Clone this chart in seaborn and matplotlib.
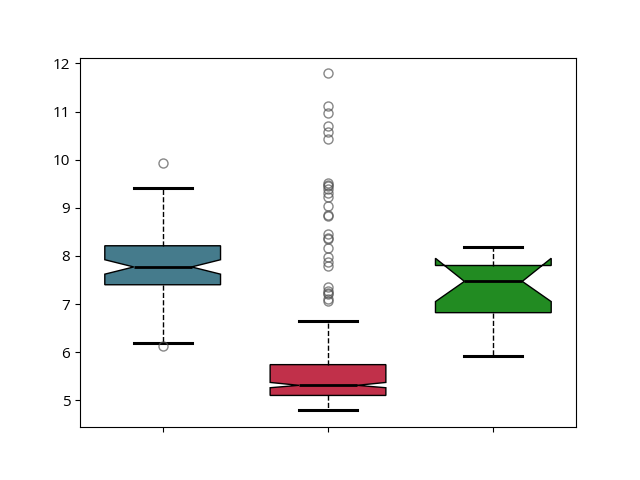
import matplotlib
matplotlib.use("Agg")
import matplotlib.pyplot as plt
import seaborn as sns

sns.set_style("ticks")
plt.rcParams.update(plt.rcParamsDefault)
plt.rcParams["font.family"] = ["Open Sans", "DejaVu Sans"]

# Data
groups = ["A", "B", "C"]
q1 = [7.40, 5.10, 6.82]
medians = [7.77, 5.31, 7.47]
q3 = [8.21, 5.74, 7.80]
whisker_low = [6.19, 4.79, 5.91]
whisker_high = [9.42, 6.64, 8.18]
notch_low = [7.62, 5.26, 7.05]
notch_high = [7.92, 5.37, 7.95]
outliers = [
    [9.93, 6.13],
    [11.79, 11.12, 10.96, 10.69, 10.58, 10.42, 9.52, 9.47, 9.45, 9.38, 9.31, 9.22,
     9.03, 8.84, 8.82, 8.46, 8.38, 8.36, 8.17, 7.97, 7.88, 7.79, 7.36, 7.27, 7.22,
     7.20, 7.10, 7.06],
    [],
]
colors = ["#457b8c", "#c1304a", "#228b22"]

stats = []
for i, g in enumerate(groups):
    stats.append(dict(label=g, med=medians[i], q1=q1[i], q3=q3[i],
                      whislo=whisker_low[i], whishi=whisker_high[i],
                      cilo=notch_low[i], cihi=notch_high[i], fliers=outliers[i]))

fig, ax = plt.subplots(figsize=(6.4, 4.8), dpi=100)
bp = ax.bxp(stats, positions=range(len(groups)), widths=0.7, shownotches=True,
            patch_artist=True,
            boxprops=dict(edgecolor="black", linewidth=1),
            medianprops=dict(color="black", linewidth=2),
            whiskerprops=dict(color="black", linestyle="--", linewidth=1),
            capprops=dict(color="black", linewidth=2.2),
            flierprops=dict(marker="o", markerfacecolor="none",
                            markeredgecolor="#555555", alpha=0.7, markersize=6.5))
for patch, c in zip(bp["boxes"], colors):
    patch.set_facecolor(c)

ax.set_xlim(-0.5, 2.5)
ax.set_ylim(4.44, 12.12)
ax.set_xticks(range(len(groups)))
ax.set_xticklabels([])
ax.set_yticks(range(5, 13))
ax.tick_params(axis="y", labelsize=11)
fig.savefig("out.png", dpi=100)
